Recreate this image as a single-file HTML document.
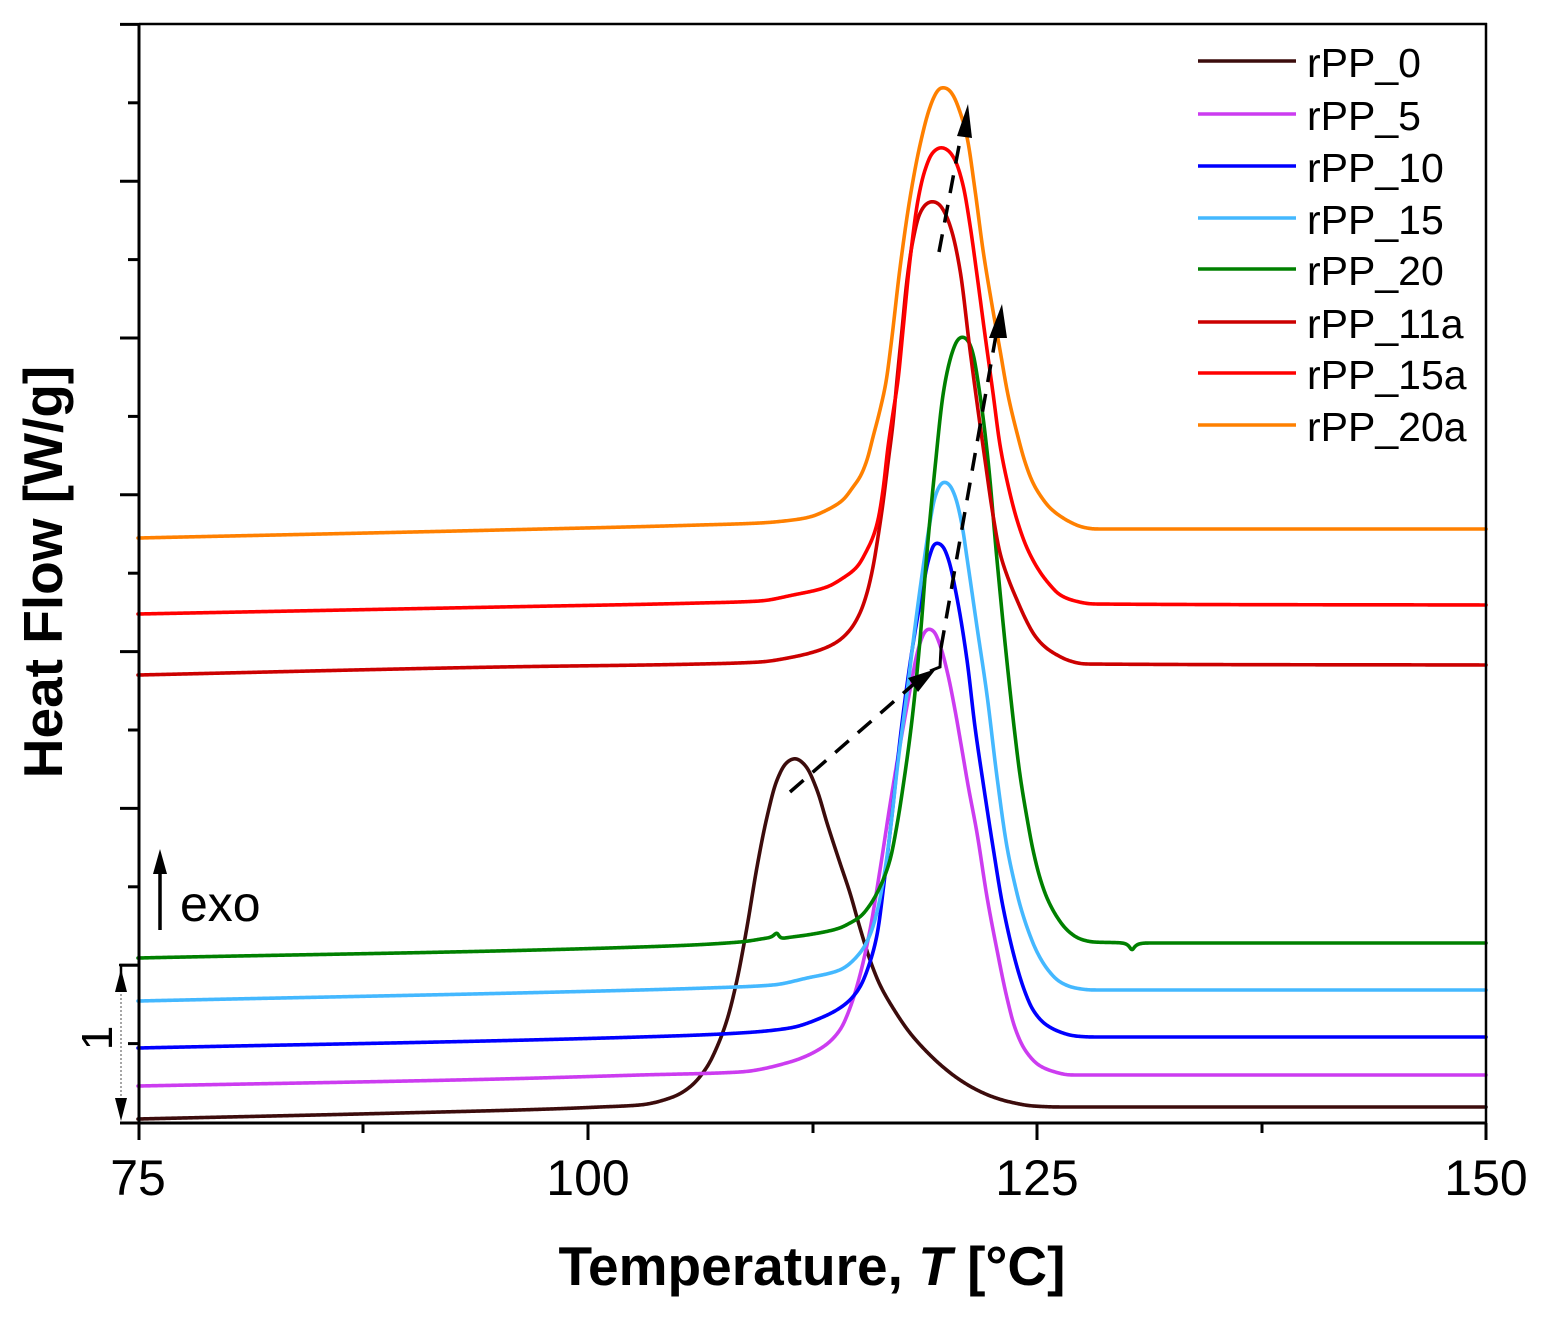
<!DOCTYPE html>
<html>
<head>
<meta charset="utf-8">
<style>
  html,body{margin:0;padding:0;background:#fff;}
  svg{display:block;}
  text{font-family:"Liberation Sans", Arial, sans-serif;fill:#000;}
</style>
</head>
<body>
<svg id="chart" width="1545" height="1321" viewBox="0 0 1545 1321" xmlns="http://www.w3.org/2000/svg">
  <rect x="0" y="0" width="1545" height="1321" fill="#ffffff"/>

  <!-- curves -->
  <g fill="none" stroke-width="3.6" stroke-linejoin="round" stroke-linecap="round">
    <polyline class="crv" stroke="#3c0c0c" points="138,1119 400,1113 550,1109 600,1107 640,1105 673,1097 690,1087 707,1067 717,1047 727,1020 737,980 747,927 757,867 767,817 777,780 787,762 795,758 805,765 817,790 827,823 840,863 850,893 860,928 870,960 880,985 893,1008 910,1033 927,1052 943,1067 960,1080 977,1090 993,1097 1010,1102 1033,1106 1060,1107 1486,1107"/>
    <polyline class="crv" stroke="#cc3cf0" points="138,1086 500,1079 640,1075 740,1072 790,1062 823,1047 840,1030 850,1008 860,975 870,930 880,870 890,805 900,745 910,690 918,650 924,633 928,628 933,630 940,645 948,675 955,710 962,750 968,785 977,833 987,897 997,950 1007,998 1015,1028 1025,1050 1040,1066 1055,1072 1070,1075 1486,1075"/>
    <polyline class="crv" stroke="#0000ff" points="138,1048 640,1037 740,1033 790,1028 823,1017 840,1008 850,1000 860,987 870,962 877,935 885,875 892,815 900,740 907,685 914,638 922,593 929,558 936,542 942,545 948,558 957,598 967,660 975,727 983,782 993,847 1003,907 1017,967 1025,992 1033,1010 1045,1024 1060,1032 1075,1036 1093,1037 1486,1037"/>
    <polyline class="crv" stroke="#44b8ff" points="138,1001 640,990 707,988 773,985 807,978 840,970 860,953 870,935 877,912 885,870 890,833 898,762 907,693 915,627 923,568 930,522 935,497 940,485 944,481 949,484 955,496 962,525 967,558 977,627 987,695 997,777 1007,847 1015,885 1020,905 1028,930 1037,952 1048,970 1060,982 1075,988 1093,990 1486,990"/>
    <polyline class="crv" stroke="#008000" points="138,958 640,947 740,942 767,938 773,937 777,931 780,939 785,938 807,935 840,928 850,923 860,917 870,905 880,887 890,860 897,825 903,787 912,720 920,640 927,552 935,468 943,395 948,368 953,350 958,339 962,336 967,339 972,350 980,395 988,460 997,560 1007,662 1015,735 1020,775 1027,818 1033,850 1040,878 1047,898 1057,917 1067,930 1080,939 1093,942 1124,943 1129,945 1132,952 1135,945 1145,943 1486,943"/>
    <polyline class="crv" stroke="#cc0000" points="138,675 500,667 700,664 760,662 793,657 820,650 837,642 850,630 860,613 867,593 873,567 878,537 883,503 888,463 893,423 897,380 902,330 907,280 913,240 920,213 927,203 932,201 938,203 945,213 952,232 960,270 970,350 978,410 985,460 993,515 1000,553 1008,578 1017,600 1027,622 1035,636 1045,647 1057,655 1070,661 1085,664 1486,665"/>
    <polyline class="crv" stroke="#ff0000" points="138,614 500,607 700,603 760,601 793,595 827,587 843,578 857,567 867,550 873,537 878,520 883,490 888,447 893,413 898,380 903,330 910,260 918,200 925,170 933,152 941,147 948,150 955,160 963,185 970,225 977,275 985,335 993,393 1000,445 1008,485 1017,520 1027,548 1040,572 1050,585 1060,595 1075,601 1093,604 1486,605"/>
    <polyline class="crv" stroke="#ff8000" points="138,538 500,530 700,525 760,523 793,520 810,517 827,510 843,500 853,487 860,477 867,460 873,437 880,410 886,382 891,345 900,268 910,198 920,145 930,107 936,93 941,87 947,88 953,95 960,112 967,137 975,190 983,250 992,305 1000,350 1008,395 1017,433 1025,462 1033,483 1042,498 1050,508 1060,516 1070,522 1082,527 1095,529 1486,529"/>
  </g>

  <!-- dashed arrows -->
  <g stroke="#000" stroke-width="3.5" fill="none" stroke-dasharray="18 12">
    <line x1="790" y1="792" x2="915" y2="683"/>
    <line x1="941" y1="648" x2="996" y2="335"/>
    <line x1="939" y1="252" x2="962" y2="130"/>
  </g>
  <g stroke="#000" stroke-width="3" fill="none">
    <polyline points="930,671 940,667 941,648"/>
  </g>
  <g fill="#000">
    <polygon points="936,669 908,678 918,692"/>
    <polygon points="1002,304 989,338 1007,338"/>
    <polygon points="968,104 957,136 972,138"/>
  </g>

  <!-- frame -->
  <g stroke="#000" fill="none">
    <line x1="139" y1="24" x2="1487" y2="24" stroke-width="2.5"/>
    <line x1="1486" y1="23" x2="1486" y2="1124" stroke-width="2.5"/>
    <line x1="139" y1="23" x2="139" y2="1124" stroke-width="3"/>
    <line x1="138" y1="1123" x2="1487" y2="1123" stroke-width="3"/>
  </g>

  <!-- y ticks -->
  <g stroke="#000" stroke-width="3">
    <line x1="120" y1="24.4" x2="139" y2="24.4"/>
    <line x1="128" y1="102.8" x2="139" y2="102.8"/>
    <line x1="120" y1="181.2" x2="139" y2="181.2"/>
    <line x1="128" y1="259.6" x2="139" y2="259.6"/>
    <line x1="120" y1="338" x2="139" y2="338"/>
    <line x1="128" y1="416.4" x2="139" y2="416.4"/>
    <line x1="120" y1="494.8" x2="139" y2="494.8"/>
    <line x1="128" y1="573.2" x2="139" y2="573.2"/>
    <line x1="120" y1="651.6" x2="139" y2="651.6"/>
    <line x1="128" y1="730" x2="139" y2="730"/>
    <line x1="120" y1="808.4" x2="139" y2="808.4"/>
    <line x1="128" y1="886.8" x2="139" y2="886.8"/>
    <line x1="120" y1="965.2" x2="139" y2="965.2"/>
    <line x1="128" y1="1043.6" x2="139" y2="1043.6"/>
    <line x1="120" y1="1123" x2="139" y2="1123"/>
  </g>

  <!-- x ticks -->
  <g stroke="#000" stroke-width="3">
    <line x1="139" y1="1123" x2="139" y2="1140"/>
    <line x1="363" y1="1123" x2="363" y2="1133"/>
    <line x1="588" y1="1123" x2="588" y2="1140"/>
    <line x1="813" y1="1123" x2="813" y2="1133"/>
    <line x1="1037" y1="1123" x2="1037" y2="1140"/>
    <line x1="1262" y1="1123" x2="1262" y2="1133"/>
    <line x1="1486" y1="1123" x2="1486" y2="1140"/>
  </g>

  <!-- tick labels -->
  <g font-size="50" text-anchor="middle">
    <text x="138" y="1195">75</text>
    <text x="588" y="1195">100</text>
    <text x="1037" y="1195">125</text>
    <text x="1486" y="1195">150</text>
  </g>

  <!-- axis titles -->
  <text x="812" y="1285" font-size="55" font-weight="bold" text-anchor="middle">Temperature, <tspan font-style="italic">T</tspan> [°C]</text>
  <text transform="translate(62,572) rotate(-90)" font-size="55" font-weight="bold" text-anchor="middle">Heat Flow [W/g]</text>

  <!-- exo arrow -->
  <line x1="160" y1="930" x2="160" y2="866" stroke="#000" stroke-width="3.5"/>
  <polygon points="160,849 153,874 167,874" fill="#000"/>
  <text x="180" y="921" font-size="50">exo</text>

  <!-- scale bar -->
  <g stroke="#000" stroke-width="2.5" fill="none">
    <line x1="119" y1="965" x2="139" y2="965"/>
    <line x1="121" y1="965" x2="121" y2="975"/>
  </g>
  <line x1="121" y1="990" x2="121" y2="1100" stroke="#888" stroke-width="1.5" stroke-dasharray="2 2"/>
  <polygon points="121,969 115,992 127,992" fill="#000"/>
  <polygon points="121,1121 115,1098 127,1098" fill="#000"/>
  <text transform="translate(112,1038) rotate(-90)" font-size="44" text-anchor="middle">1</text>

  <!-- legend -->
  <g stroke-width="3.5">
    <line x1="1198" y1="61" x2="1296" y2="61" stroke="#3c0c0c"/>
    <line x1="1198" y1="114" x2="1296" y2="114" stroke="#cc3cf0"/>
    <line x1="1198" y1="166" x2="1296" y2="166" stroke="#0000ff"/>
    <line x1="1198" y1="218" x2="1296" y2="218" stroke="#44b8ff"/>
    <line x1="1198" y1="269" x2="1296" y2="269" stroke="#008000"/>
    <line x1="1198" y1="322" x2="1296" y2="322" stroke="#cc0000"/>
    <line x1="1198" y1="373" x2="1296" y2="373" stroke="#ff0000"/>
    <line x1="1198" y1="425" x2="1296" y2="425" stroke="#ff8000"/>
  </g>
  <g font-size="41">
    <text x="1307" y="77">rPP_0</text>
    <text x="1307" y="130">rPP_5</text>
    <text x="1307" y="182">rPP_10</text>
    <text x="1307" y="234">rPP_15</text>
    <text x="1307" y="285">rPP_20</text>
    <text x="1307" y="338">rPP_11a</text>
    <text x="1307" y="389">rPP_15a</text>
    <text x="1307" y="441">rPP_20a</text>
  </g>
</svg>
<script>
(function(){
  var lines = document.querySelectorAll('polyline.crv');
  for (var k = 0; k < lines.length; k++) {
    var el = lines[k];
    var raw = el.getAttribute('points').trim().split(/\s+/).map(function(s){var a=s.split(',');return [parseFloat(a[0]),parseFloat(a[1])];});
    var n = raw.length, xs = [], ys = [], d = [], m = [], i, j;
    for (i = 0; i < n; i++) { xs.push(raw[i][0]); ys.push(raw[i][1]); }
    for (i = 0; i < n - 1; i++) d.push((ys[i+1]-ys[i])/(xs[i+1]-xs[i]));
    m[0] = d[0]; m[n-1] = d[n-2];
    for (i = 1; i < n - 1; i++) {
      if (d[i-1]*d[i] <= 0) { m[i] = 0; }
      else {
        var h0 = xs[i]-xs[i-1], h1 = xs[i+1]-xs[i];
        var w1 = 2*h1 + h0, w2 = h1 + 2*h0;
        m[i] = (w1 + w2) / (w1/d[i-1] + w2/d[i]);
      }
    }
    var px = [], py = [];
    for (i = 0; i < n - 1; i++) {
      var x0 = xs[i], x1 = xs[i+1], y0 = ys[i], y1 = ys[i+1], h = x1 - x0;
      var steps = Math.max(1, Math.ceil(h / 0.5));
      for (var s = 0; s < steps; s++) {
        var t = s / steps, t2 = t*t, t3 = t2*t;
        var y = (2*t3-3*t2+1)*y0 + (t3-2*t2+t)*h*m[i] + (-2*t3+3*t2)*y1 + (t3-t2)*h*m[i+1];
        px.push(x0 + t*h); py.push(y);
      }
    }
    px.push(xs[n-1]); py.push(ys[n-1]);
    /* resample by arc length */
    var L = [0];
    for (i = 1; i < px.length; i++) L.push(L[i-1] + Math.hypot(px[i]-px[i-1], py[i]-py[i-1]));
    var total = L[L.length-1], step = 1, RX = [], RY = [], seg = 0;
    for (var sl = 0; sl <= total; sl += step) {
      while (seg < L.length - 2 && L[seg+1] < sl) seg++;
      var dl = L[seg+1] - L[seg], f = dl > 0 ? (sl - L[seg]) / dl : 0;
      RX.push(px[seg] + f*(px[seg+1]-px[seg]));
      RY.push(py[seg] + f*(py[seg+1]-py[seg]));
    }
    RX.push(px[px.length-1]); RY.push(py[py.length-1]);
    /* gaussian smoothing along arc length */
    var sigma = 3.5, R = Math.ceil(sigma*3), ker = [];
    for (j = -R; j <= R; j++) ker.push(Math.exp(-j*j/(2*sigma*sigma)));
    var N = RX.length, SX = RX.slice(), SY = RY.slice();
    for (i = 1; i < N - 1; i++) {
      var r = Math.min(R, i, N - 1 - i);
      var ax = 0, ay = 0, ws = 0;
      for (j = -r; j <= r; j++) { var w = ker[j+R]; ax += RX[i+j]*w; ay += RY[i+j]*w; ws += w; }
      SX[i] = ax/ws; SY[i] = ay/ws;
    }
    var out = [];
    for (i = 0; i < N; i++) out.push(SX[i].toFixed(2) + ',' + SY[i].toFixed(2));
    el.setAttribute('points', out.join(' '));
  }
})();
</script>
</body>
</html>
